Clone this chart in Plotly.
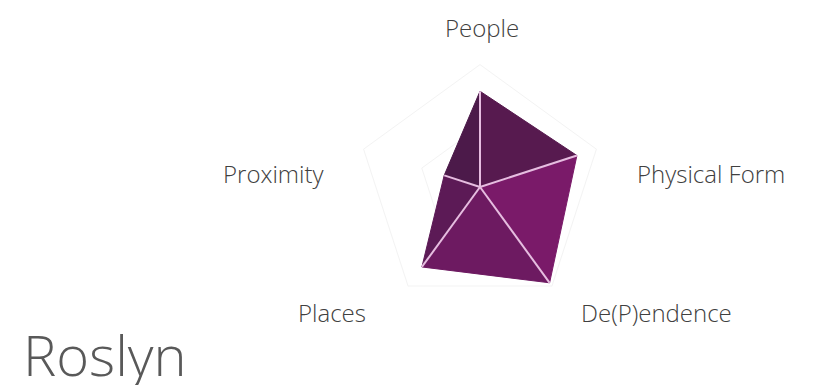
import plotly.graph_objects as go

# radar data (Roslyn)
categories = ["People", "Physical Form", "De(P)endence", "Places", "Proximity"]
values = [3.13, 3.33, 3.87, 3.23, 1.23]

# colour of each wedge (centre -> category i -> category i+1)
sector_colors = ["#571a4f", "#7a1a69", "#6d1a61", "#5c1a56", "#4c1a4a"]

# label centres in screen pixels (x, y from top)
label_pos = [(482, 27), (711, 174), (656, 312), (332, 312), (273, 174)]

W, H = 814, 385
OFF = 8  # page body margin
cx, cy, R = 480 - OFF, 187 - OFF, 153

fig = go.Figure()

n = len(categories)
for i in range(n):
    j = (i + 1) % n
    fig.add_trace(go.Scatterpolar(
        r=[0, values[i], values[j], 0],
        theta=[categories[i], categories[i], categories[j], categories[i]],
        mode="lines",
        fill="toself",
        fillcolor=sector_colors[i],
        line=dict(color=sector_colors[i], width=1),
        hoverinfo="skip",
        showlegend=False,
    ))

# spokes over the fill
r_sp, t_sp = [], []
for c, v in zip(categories, values):
    r_sp += [0, v, None]
    t_sp += [c, c, None]
fig.add_trace(go.Scatterpolar(
    r=r_sp, theta=t_sp, mode="lines",
    line=dict(color="#e6bde0", width=2),
    hoverinfo="skip", showlegend=False,
))

for c, (lx, ly) in zip(categories, label_pos):
    fig.add_annotation(
        x=(lx - OFF) / W, y=1 - (ly - OFF) / H, xref="paper", yref="paper",
        text=c, showarrow=False, xanchor="center", yanchor="middle",
        font=dict(family="Open Sans", size=24, color="#404040", weight=300),
    )

fig.add_annotation(
    x=13 / W, y=1 - 346 / H, xref="paper", yref="paper",
    text="Roslyn", showarrow=False, xanchor="left", yanchor="middle",
    font=dict(family="Open Sans", size=56, color="#595959", weight=300),
)

fig.update_layout(
    width=W, height=H,
    margin=dict(l=0, r=0, t=0, b=0),
    paper_bgcolor="white",
    plot_bgcolor="white",
    polar=dict(
        domain=dict(x=[(cx - R) / W, (cx + R) / W], y=[1 - (cy + R) / H, 1 - (cy - R) / H]),
        bgcolor="white",
        gridshape="linear",
        radialaxis=dict(range=[0, 5], showticklabels=False, ticks="", showline=False,
                        gridcolor="#f3f3f3", tickvals=[2, 4]),
        angularaxis=dict(direction="clockwise", rotation=90, showticklabels=False,
                         ticks="", showline=False, showgrid=False),
    ),
)

fig.write_html("out.html")
